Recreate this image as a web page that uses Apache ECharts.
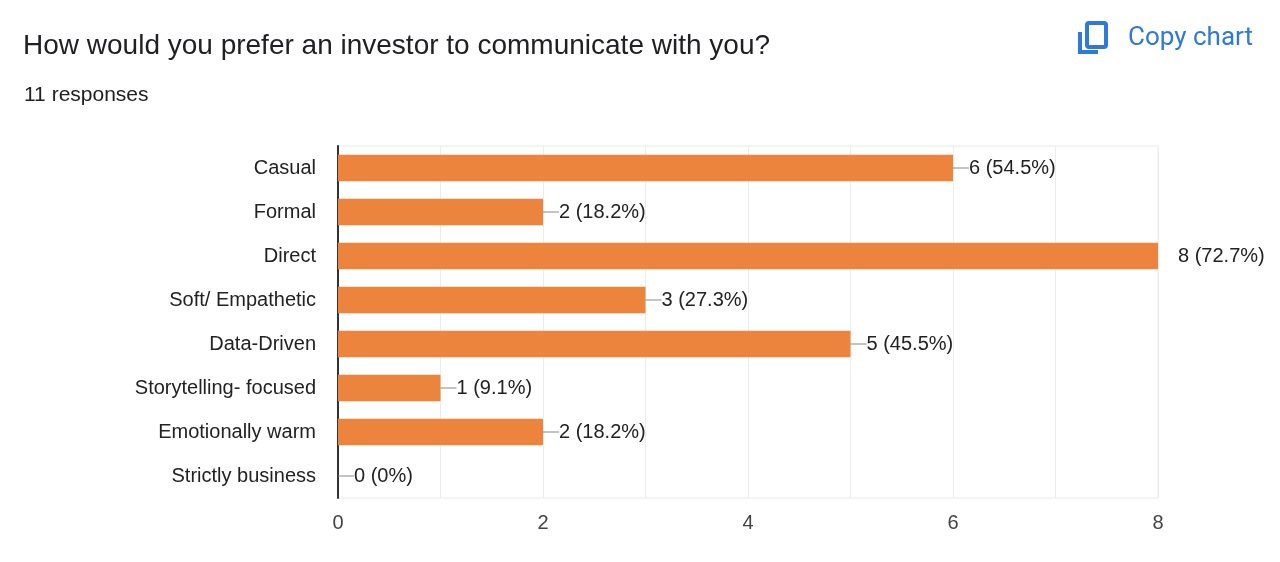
<!DOCTYPE html>
<html>
<head>
<meta charset="utf-8">
<script src="https://cdn.jsdelivr.net/npm/echarts@6/dist/echarts.min.js"></script>
<style>
  html, body { margin: 0; padding: 0; background: #fff; }
  #chart { width: 1280px; height: 562px; }
</style>
</head>
<body>
<div id="chart"></div>
<script>
// data
const categories = ['Casual', 'Formal', 'Direct', 'Soft/ Empathetic', 'Data-Driven', 'Storytelling- focused', 'Emotionally warm', 'Strictly business'];
const counts = [6, 2, 8, 3, 5, 1, 2, 0];
const percents = ['54.5%', '18.2%', '72.7%', '27.3%', '45.5%', '9.1%', '18.2%', '0%'];
const xTicks = [0, 2, 4, 6, 8];

const AXIS_MAX = 8;
const FONT = '"Liberation Sans", Arial, sans-serif';
const chart = echarts.init(document.getElementById('chart'));

const barData = counts.map((v, i) => {
    const item = { value: v };
    if (v === AXIS_MAX) {
        item.label = { distance: 20, formatter: v + ' (' + percents[i] + ')' };
    }
    return item;
});

chart.setOption({
    animation: false,
    textStyle: { fontFamily: FONT },
    title: [
        {
            text: 'How would you prefer an investor to communicate with you?',
            left: 18, top: 27,
            textStyle: { fontSize: 28, fontWeight: 'normal', color: '#202124', fontFamily: FONT }
        },
        {
            text: '11 responses',
            left: 19, top: 80,
            textStyle: { fontSize: 21, fontWeight: 'normal', color: '#202124', fontFamily: FONT }
        }
    ],
    graphic: [
        { type: 'rect', shape: { x: 1078, y: 32, width: 4, height: 22 }, style: { fill: '#2f7ad6' } },
        { type: 'rect', shape: { x: 1078, y: 50, width: 20, height: 4 }, style: { fill: '#2f7ad6' } },
        { type: 'rect', shape: { x: 1087, y: 23, width: 19, height: 24, r: 2 }, style: { fill: 'none', stroke: '#2f7ad6', lineWidth: 4 } },
        { type: 'text', left: 1128, top: 25, style: { text: 'Copy chart', fontSize: 26, fill: '#2f7ad6', fontFamily: 'Roboto, sans-serif' } }
    ],
    grid: {
        left: 338, right: 122, top: 146, bottom: 64,
        show: true, borderColor: '#e8e8e8', borderWidth: 1
    },
    xAxis: {
        type: 'value',
        min: 0, max: AXIS_MAX, interval: 1,
        axisLine: { show: false },
        axisTick: { show: false },
        splitLine: { lineStyle: { color: '#ececec' } },
        axisLabel: {
            fontSize: 20, color: '#444', margin: 15,
            formatter: v => xTicks.includes(v) ? String(v) : ''
        }
    },
    yAxis: {
        type: 'category',
        data: categories,
        inverse: true,
        axisLine: { show: true, lineStyle: { color: '#333', width: 2 } },
        axisTick: { show: false },
        axisLabel: { fontSize: 20, color: '#222', margin: 22 }
    },
    series: [{
        type: 'bar',
        data: barData,
        barWidth: '60%',
        itemStyle: { color: '#ec843d' },
        label: {
            show: true,
            position: 'right',
            distance: 0,
            fontSize: 20,
            color: '#222',
            formatter: p => '{l|}' + p.value + ' (' + percents[p.dataIndex] + ')',
            rich: {
                l: { width: 16, height: 1, backgroundColor: '#888' }
            }
        }
    }]
});

window.addEventListener('resize', () => chart.resize());
</script>
</body>
</html>
